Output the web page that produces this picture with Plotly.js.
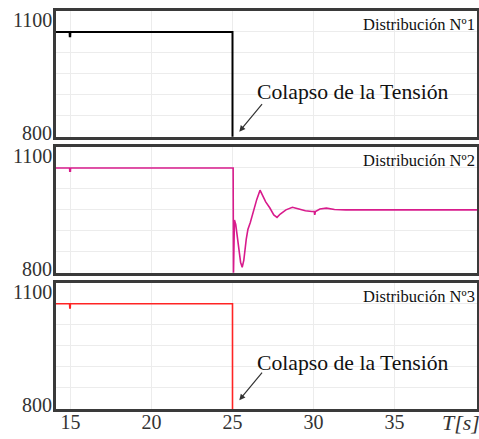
<!DOCTYPE html>
<html>
<head>
<meta charset="utf-8">
<script src="https://cdn.plot.ly/plotly-3.0.1.min.js"></script>
<style>html,body{margin:0;padding:0;background:#fff;}#chart{width:479px;height:439px;}</style>
</head>
<body>
<div id="chart"></div>
<script>
// ---- data ----
const t1 = [14.1, 14.94, 14.95, 14.98, 14.99, 25.0, 25.0];
const v1 = [1050, 1050, 1040, 1040, 1050, 1050, 0];

const t2 = [14.1, 14.94, 14.95, 14.99, 15.0, 25.04, 25.06, 25.12, 25.2, 25.35, 25.5, 25.6, 25.7, 25.85, 25.95, 26.1, 26.3, 26.5, 26.7, 26.85, 27.05, 27.3, 27.55, 27.75, 27.95, 28.3, 28.7, 29.1, 29.5, 29.9, 30.05, 30.08, 30.12, 30.4, 30.8, 31.3, 32.0, 40.1];
const v2 = [1050, 1050, 1042, 1042, 1050, 1050, 795, 926, 915, 870, 825, 813, 830, 880, 903, 920, 950, 975, 997, 985, 969, 955, 938, 932, 940, 950, 956, 952, 948, 946, 946, 938, 946, 952, 954, 951, 950, 950];

const t3 = [14.1, 14.94, 14.95, 14.98, 14.99, 25.0, 25.0];
const v3 = [1050, 1050, 1040, 1040, 1050, 1050, 0];

const xTickVals = [15, 20, 25, 30, 35];
const xTickText = ['15', '20', '25', '30', '35'];
const yTickVals = [800, 1100];
const yTickText = ['800', '1100'];
const panelLabels = ['Distribución Nº1', 'Distribución Nº2', 'Distribución Nº3'];
const collapseText = 'Colapso de la Tensión';
const xTitle = 'T[s]';

// ---- chart ----
const serif = "'Liberation Serif', 'Times New Roman', serif";
const frame = '#3a3a3a';
const grid = '#ececec';

const traces = [
  {x: t1, y: v1, xaxis: 'x', yaxis: 'y', mode: 'lines', line: {color: '#000000', width: 2}},
  {x: t2, y: v2, xaxis: 'x2', yaxis: 'y2', mode: 'lines', line: {color: '#d81b8c', width: 1.6}},
  {x: t3, y: v3, xaxis: 'x3', yaxis: 'y3', mode: 'lines', line: {color: '#ff2424', width: 1.6}}
];

const domains = [[0.6842, 1.0], [0.3425, 0.6583], [0.0, 0.3173]];

function xax(i, showLabels) {
  return {
    domain: [0, 1], anchor: i === 1 ? 'y' : 'y' + i,
    range: [14.1, 40.1], tickvals: xTickVals, ticktext: xTickText,
    showticklabels: showLabels, ticks: '', ticklabelstandoff: -7,
    tickfont: {family: serif, size: 20, color: '#333'},
    showgrid: true, gridcolor: grid, gridwidth: 1, zeroline: false,
    showline: true, mirror: true, linecolor: frame, linewidth: 3
  };
}
function yax(i) {
  return {
    domain: domains[i - 1], anchor: i === 1 ? 'x' : 'x' + i,
    range: [800, 1100], dtick: 50, tick0: 800, showticklabels: false, ticks: '',
    showgrid: true, gridcolor: grid, gridwidth: 1, zeroline: false,
    showline: true, mirror: true, linecolor: frame, linewidth: 3
  };
}

const annotations = [];
for (let i = 1; i <= 3; i++) {
  const yr = i === 1 ? 'y' : 'y' + i;
  annotations.push({xref: 'paper', yref: yr, x: 0, y: yTickVals[1], text: yTickText[1], showarrow: false,
    xanchor: 'right', yanchor: 'middle', xshift: -3, yshift: -9, borderpad: 0,
    font: {family: serif, size: 20, color: '#333'}});
  annotations.push({xref: 'paper', yref: yr, x: 0, y: yTickVals[0], text: yTickText[0], showarrow: false,
    xanchor: 'right', yanchor: 'middle', xshift: -3, yshift: 4, borderpad: 0,
    font: {family: serif, size: 20, color: '#333'}});
  annotations.push({xref: 'paper', yref: 'paper', x: 1, y: domains[i - 1][1], text: panelLabels[i - 1], showarrow: false,
    xanchor: 'right', yanchor: 'top', xshift: 0, yshift: -2, font: {family: serif, size: 16.5, color: '#111'}});
}
[['x', 'y', 812, 907], ['x3', 'y3', 821, 910]].forEach(([xr, yr, tipY, txtY]) => {
  annotations.push({xref: xr, yref: yr, x: 25.42, y: tipY, text: '', showarrow: true,
    ax: 24, ay: -29, arrowhead: 2, arrowsize: 1, arrowwidth: 1.2, arrowcolor: '#333', standoff: 0});
  annotations.push({xref: xr, yref: yr, x: 32.45, y: txtY, text: collapseText, showarrow: false,
    xanchor: 'center', yanchor: 'middle', font: {family: serif, size: 21.7, color: '#111'}});
});
annotations.push({xref: 'paper', yref: 'paper', x: 1, y: 0, text: '<i>' + xTitle + '</i>', showarrow: false,
  xanchor: 'right', yanchor: 'top', xshift: 5, yshift: 1, font: {family: serif, size: 22, color: '#333'}});

const layout = {
  width: 479, height: 439,
  margin: {l: 56, r: 2, t: 11, b: 30},
  paper_bgcolor: '#ffffff', plot_bgcolor: '#ffffff',
  showlegend: false,
  font: {family: serif},
  xaxis: xax(1, false), xaxis2: xax(2, false), xaxis3: xax(3, true),
  yaxis: yax(1), yaxis2: yax(2), yaxis3: yax(3),
  annotations: annotations
};

Plotly.newPlot('chart', traces, layout, {displayModeBar: false, staticPlot: true});
</script>
</body>
</html>
